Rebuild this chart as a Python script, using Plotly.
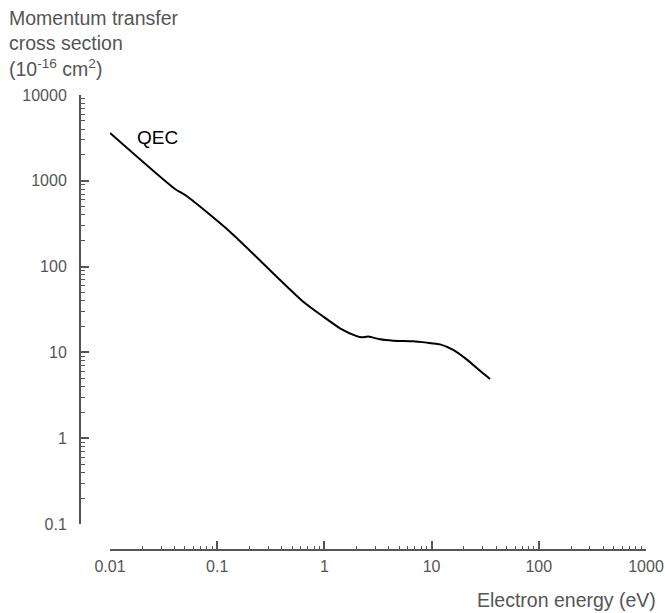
import plotly.graph_objects as go

# QEC momentum-transfer cross section vs electron energy
energy_ev = [0.01, 0.0404, 0.0519, 0.1315, 0.359, 0.635, 0.977, 1.398, 2.0, 2.23,
             2.57, 3.30, 4.40, 6.75, 9.0, 12.0, 15.9, 21.2, 28.3, 35.1]
cross_section = [3606, 802, 665, 255, 76.3, 39.0, 26.1, 19.1, 15.5, 15.0,
                 15.3, 14.2, 13.7, 13.5, 13.0, 12.4, 10.7, 8.3, 6.1, 4.9]

x_tick_vals = [0.01, 0.1, 1, 10, 100, 1000]
x_tick_text = ["0.01", "0.1", "1", "10", "100", "1000"]
y_tick_vals = [0.1, 1, 10, 100, 1000, 10000]
y_tick_text = ["0.1", "1", "10", "100", "1000", "10000"]

# minor ticks at 2..9 within each decade
x_minor_vals = [m * d for d in x_tick_vals[:-1] for m in range(2, 10)]
y_minor_vals = [m * d for d in y_tick_vals[:-1] for m in range(2, 10)]

W, H = 665, 613
ML, MR, MT, MB = 80, 19, 95, 63
PW, PH = W - ML - MR, H - MT - MB

FONT = "Liberation Sans, Arial, sans-serif"
GREY = "#555555"

X_DOMAIN = [(110 - ML) / PW, 1]
Y_DOMAIN = [(550 - 524) / PH, 1]


def px_to_paper(px, py):
    return (px - ML) / PW, (H - MB - py) / PH


fig = go.Figure()
fig.add_trace(go.Scatter(
    x=energy_ev, y=cross_section, mode="lines",
    line=dict(color="black", width=2, shape="spline", smoothing=0.6),
    showlegend=False, hoverinfo="skip",
))

axis_common = dict(
    type="log", showgrid=False, zeroline=False, automargin=False,
    linecolor=GREY, anchor="free", position=0, tickmode="array",
    tickcolor=GREY, ticks="inside",
)

fig.update_layout(
    width=W, height=H,
    margin=dict(l=ML, r=MR, t=MT, b=MB),
    paper_bgcolor="white", plot_bgcolor="white",
    xaxis=dict(axis_common, range=[-2, 3], domain=X_DOMAIN,
               showline=True, linewidth=2, ticklen=8, tickwidth=1.5,
               tickvals=x_tick_vals, ticktext=x_tick_text,
               tickfont=dict(family=FONT, size=16, color=GREY),
               ticklabelstandoff=2),
    yaxis=dict(axis_common, range=[-1, 4], domain=Y_DOMAIN,
               showline=True, linewidth=2, ticklen=8, tickwidth=1.5,
               tickvals=y_tick_vals, ticktext=y_tick_text,
               tickfont=dict(family=FONT, size=16, color=GREY),
               ticklabelstandoff=9),
    xaxis2=dict(axis_common, range=[-2, 3], domain=X_DOMAIN, overlaying="x",
                showline=False, ticklen=4, tickwidth=1.2,
                tickvals=x_minor_vals, showticklabels=False),
    yaxis2=dict(axis_common, range=[-1, 4], domain=Y_DOMAIN, overlaying="y",
                showline=False, ticklen=4, tickwidth=1.2,
                tickvals=y_minor_vals, showticklabels=False),
    font=dict(family=FONT, color=GREY),
)

# invisible carrier trace so the minor-tick axes are drawn
fig.add_trace(go.Scatter(x=[energy_ev[0]], y=[cross_section[0]], xaxis="x2",
                         yaxis="y2", mode="markers", marker=dict(opacity=0),
                         showlegend=False, hoverinfo="skip"))

tx, ty = px_to_paper(7, 5)
fig.add_annotation(
    x=tx, y=ty, xref="paper", yref="paper", xanchor="left", yanchor="top",
    align="left", showarrow=False,
    text="Momentum transfer<br>cross section<br>(10<sup>-16</sup> cm<sup>2</sup>)",
    font=dict(family=FONT, size=19.5, color=GREY),
)

bx, by = px_to_paper(658, 600)
fig.add_annotation(
    x=bx, y=by, xref="paper", yref="paper", xanchor="right", yanchor="middle",
    showarrow=False, text="Electron energy (eV)",
    font=dict(family=FONT, size=19.5, color=GREY),
)

fig.add_annotation(
    x=-1.5616, y=3.5105, xref="x", yref="y", xanchor="center", yanchor="middle",
    showarrow=False, text="QEC",
    font=dict(family=FONT, size=19, color="black"),
)

fig.write_html("out.html")
